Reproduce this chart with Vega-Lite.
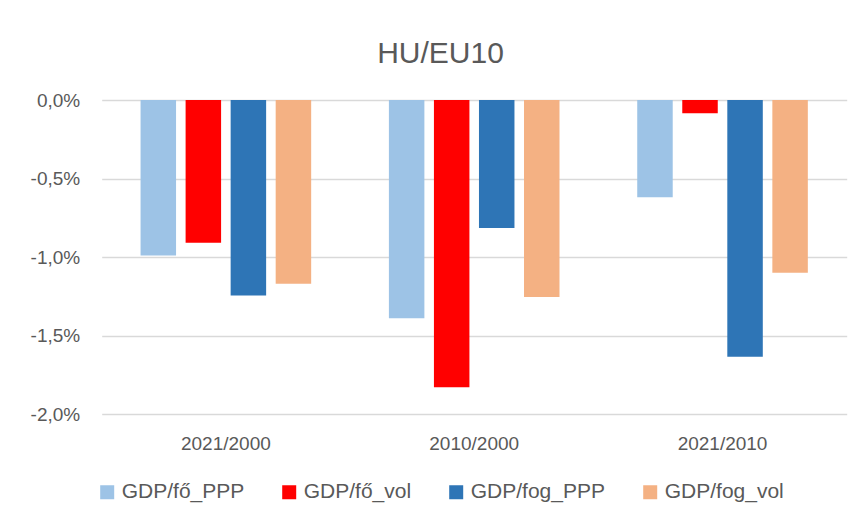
{
  "$schema": "https://vega.github.io/schema/vega-lite/v6.json",
  "width": 745,
  "height": 314,
  "autosize": {"type": "none"},
  "padding": {"left": 101.7, "top": 100, "right": 13.3, "bottom": 111},
  "background": "white",
  "title": {
    "text": "HU/EU10",
    "anchor": "middle",
    "frame": "group",
    "font": "Liberation Sans",
    "fontSize": 30,
    "fontWeight": "normal",
    "color": "#595959",
    "baseline": "alphabetic",
    "offset": 38,
    "dx": -33.7,
    "dy": 40
  },
  "data": {
    "values": [
      {"period": "2021/2000", "series": "GDP/fő_PPP", "value": -0.99},
      {"period": "2021/2000", "series": "GDP/fő_vol", "value": -0.91},
      {"period": "2021/2000", "series": "GDP/fog_PPP", "value": -1.245},
      {"period": "2021/2000", "series": "GDP/fog_vol", "value": -1.17},
      {"period": "2010/2000", "series": "GDP/fő_PPP", "value": -1.39},
      {"period": "2010/2000", "series": "GDP/fő_vol", "value": -1.83},
      {"period": "2010/2000", "series": "GDP/fog_PPP", "value": -0.815},
      {"period": "2010/2000", "series": "GDP/fog_vol", "value": -1.255},
      {"period": "2021/2010", "series": "GDP/fő_PPP", "value": -0.62},
      {"period": "2021/2010", "series": "GDP/fő_vol", "value": -0.085},
      {"period": "2021/2010", "series": "GDP/fog_PPP", "value": -1.635},
      {"period": "2021/2010", "series": "GDP/fog_vol", "value": -1.10}
    ]
  },
  "mark": {"type": "bar"},
  "encoding": {
    "x": {
      "field": "period",
      "type": "nominal",
      "sort": ["2021/2000", "2010/2000", "2021/2010"],
      "scale": {"paddingInner": 0.313, "paddingOuter": 0.1565},
      "axis": {
        "title": null,
        "orient": "bottom",
        "domain": false,
        "ticks": false,
        "labelAngle": 0,
        "labelFont": "Liberation Sans",
        "labelFontSize": 19,
        "labelColor": "#595959",
        "labelPadding": 20
      }
    },
    "xOffset": {
      "field": "series",
      "type": "nominal",
      "sort": ["GDP/fő_PPP", "GDP/fő_vol", "GDP/fog_PPP", "GDP/fog_vol"],
      "scale": {"paddingInner": 0.212, "paddingOuter": 0}
    },
    "y": {
      "field": "value",
      "type": "quantitative",
      "scale": {"domain": [-2, 0], "nice": false, "zero": true},
      "axis": {
        "title": null,
        "values": [-2, -1.5, -1, -0.5, 0],
        "domain": false,
        "ticks": false,
        "grid": true,
        "gridColor": "#d9d9d9",
        "gridWidth": 1.3,
        "labelFont": "Liberation Sans",
        "labelFontSize": 19,
        "labelColor": "#595959",
        "labelPadding": 22,
        "labelExpr": "(datum.value < 0 ? '-' : '') + replace(format(abs(datum.value), '.1f'), '.', ',') + '%'"
      }
    },
    "color": {
      "field": "series",
      "type": "nominal",
      "sort": ["GDP/fő_PPP", "GDP/fő_vol", "GDP/fog_PPP", "GDP/fog_vol"],
      "scale": {
        "domain": ["GDP/fő_PPP", "GDP/fő_vol", "GDP/fog_PPP", "GDP/fog_vol"],
        "range": ["#9DC3E6", "#FF0000", "#2E75B6", "#F4B183"]
      },
      "legend": {
        "title": null,
        "orient": "none",
        "direction": "horizontal",
        "legendX": -5,
        "legendY": 381.5,
        "padding": 0,
        "symbolType": "square",
        "symbolSize": 196,
        "symbolStrokeWidth": 0,
        "symbolOpacity": 1,
        "labelFont": "Liberation Sans",
        "labelFontSize": 21,
        "labelColor": "#595959",
        "labelOffset": 4,
        "columnPadding": 34,
        "labelLimit": 300
      }
    }
  },
  "config": {
    "view": {"stroke": null}
  }
}
